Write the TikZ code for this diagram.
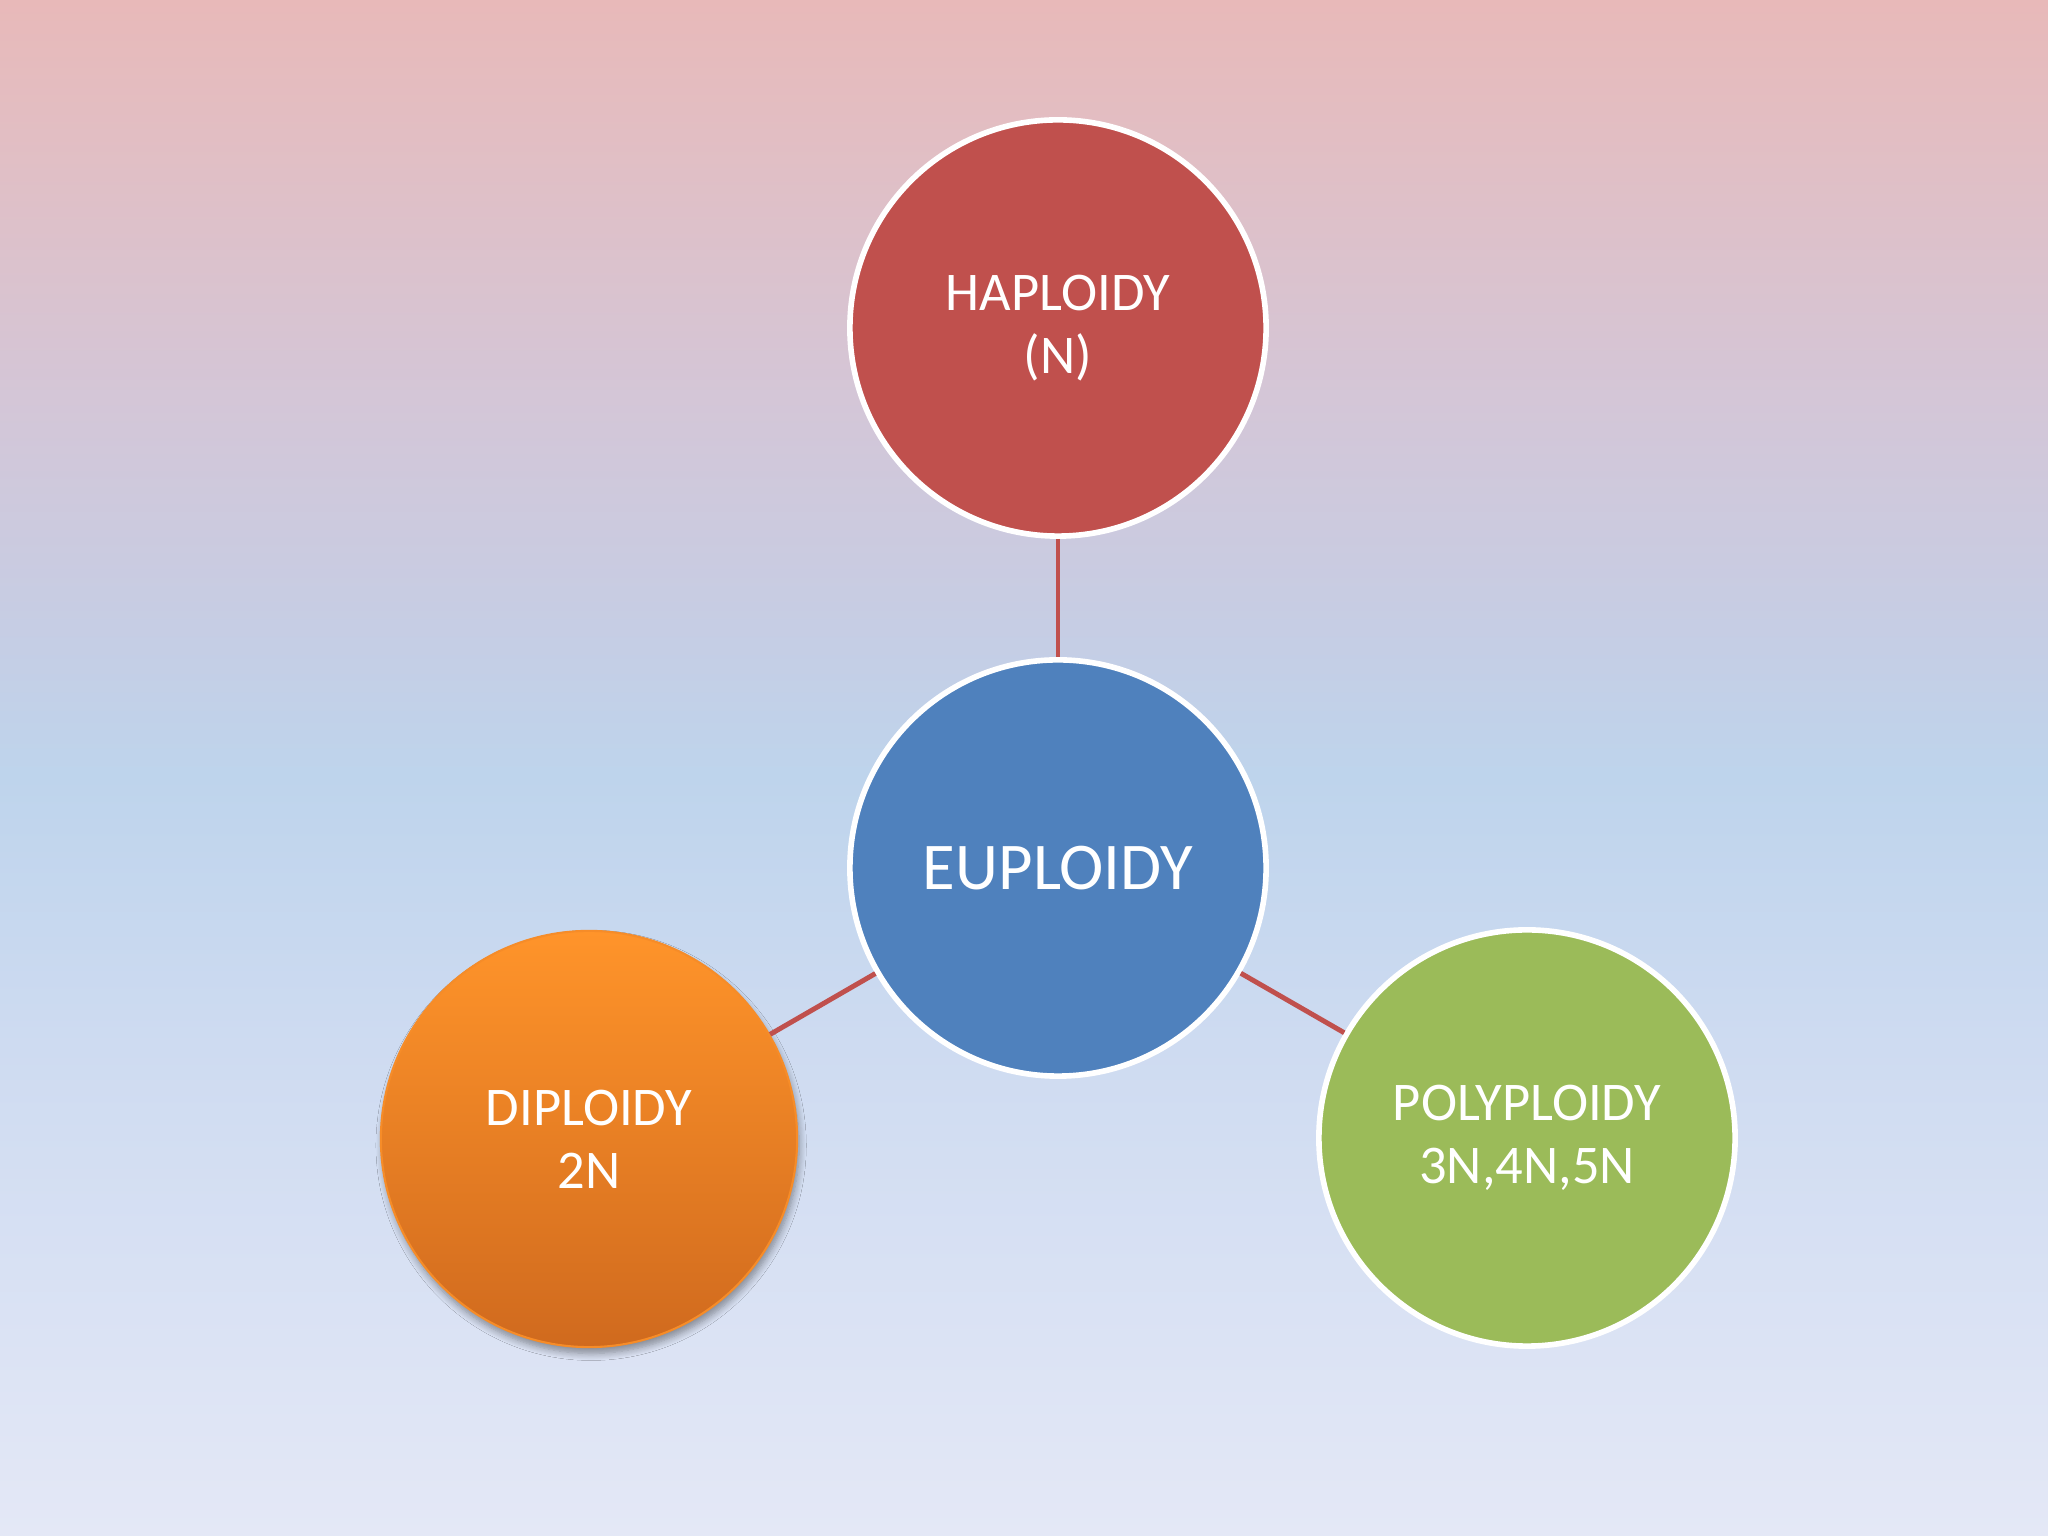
\documentclass[tikz,border=0pt]{standalone}
\usepackage{fontspec}
\setmainfont{Carlito}
\usetikzlibrary{shadows.blur}
\definecolor{bgA}{RGB}{232,185,185}
\definecolor{bgB}{RGB}{226,190,195}
\definecolor{bgC}{RGB}{212,198,215}
\definecolor{bgD}{RGB}{198,205,228}
\definecolor{bgE}{RGB}{190,212,236}
\definecolor{bgF}{RGB}{206,219,241}
\definecolor{bgG}{RGB}{228,232,246}
\definecolor{hapC}{RGB}{192,80,77}
\definecolor{euC}{RGB}{79,129,189}
\definecolor{polC}{RGB}{155,187,89}
\definecolor{dipTop}{RGB}{255,148,42}
\definecolor{dipBot}{RGB}{208,106,30}
\definecolor{linkC}{RGB}{192,80,77}
\pgfdeclareverticalshading{bgshade}{100bp}{%
  color(0bp)=(bgG); color(25bp)=(bgG); color(40.95bp)=(bgF); color(49.74bp)=(bgE);
  color(54.6bp)=(bgD); color(62.1bp)=(bgC); color(70.6bp)=(bgB); color(75bp)=(bgA); color(100bp)=(bgA)}
\tikzset{
  bubble/.style={circle, minimum size=4.16cm, inner sep=0pt, draw=white,
    line width=1.6pt, text=white, align=center, font=\fontsize{15.5}{18}\selectfont},
  link/.style={draw=linkC, line width=1.4pt}
}
\begin{document}
\begin{tikzpicture}[x=0.01cm,y=0.01cm]
\shade[shading=bgshade] (0,0) rectangle (2048,1536);
\useasboundingbox (0,0) rectangle (2048,1536);
\node[bubble, fill=hapC] (hap) at (1058,1208) {HAPLOIDY\\(N)};
\node[bubble, fill=euC, font=\fontsize{19}{22}\selectfont] (eu) at (1058,668) {EUPLOIDY};
\node[bubble, draw=dipTop!80!dipBot, line width=0.6pt, top color=dipTop, bottom color=dipBot,
  blur shadow={shadow xshift=0.6pt, shadow yshift=-1.8pt, shadow blur steps=8, shadow blur radius=2pt, shadow opacity=40}] (dip) at (589,397) {DIPLOIDY\\2N};
\node[bubble, fill=polC] (pol) at (1527,398) {POLYPLOIDY\\3N,4N,5N};
\draw[link] (hap) -- (eu);
\draw[link] (eu) -- (dip);
\draw[link] (eu) -- (pol);
\end{tikzpicture}
\end{document}
